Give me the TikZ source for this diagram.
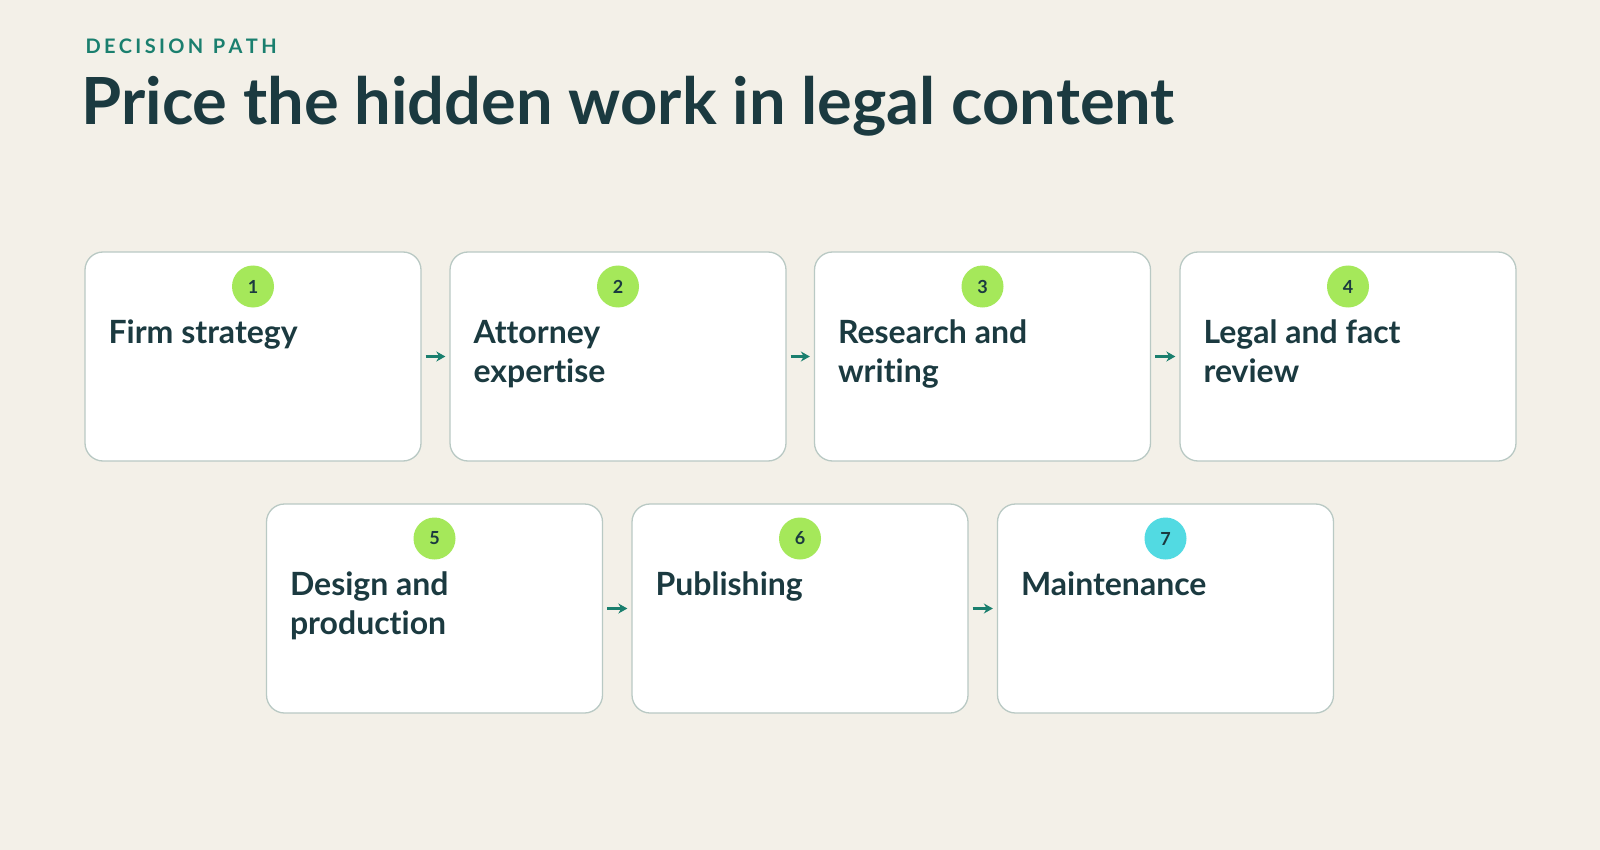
\documentclass[tikz,border=0pt]{standalone}
\usepackage{fontspec}
\setmainfont{Lato}[Ligatures=NoCommon]
\usetikzlibrary{arrows.meta}
\definecolor{bg}{HTML}{F3F0E8}
\definecolor{ink}{HTML}{1B3A40}
\definecolor{teal}{HTML}{1A7F6E}
\definecolor{bgreen}{HTML}{A5E85A}
\definecolor{bcyan}{HTML}{52DAE2}
\definecolor{edge}{HTML}{B9C9C4}
\begin{document}
\begin{tikzpicture}[x=1pt,y=-1pt,
 card/.style={draw=edge,line width=1.3pt,fill=white,rounded corners=18pt,minimum width=336pt,minimum height=209pt,inner sep=0pt},
 badge/.style={circle,fill=#1,minimum size=42pt,inner sep=0pt,font=\fontsize{18}{18}\selectfont\bfseries,text=ink},
 lbl/.style={anchor=north west,align=left,text=ink,font=\fontsize{32}{39}\selectfont\bfseries},
 arr/.style={draw=teal,line width=3pt,shorten <=4pt,shorten >=4pt,-{Stealth[length=9pt,width=10pt]}}]
\fill[bg] (0,0) rectangle (1600,850);
\node[anchor=west,text=teal,font=\fontsize{20}{20}\selectfont\bfseries] (kick) at (82,46) {D\,E\,C\,I\,S\,I\,O\,N\ \ P\,A\,T\,H};
\node[anchor=west,text=ink,font=\fontsize{65}{65}\selectfont\bfseries] (title) at (78,106) {Price the hidden work in legal content};
\foreach \n/\x/\y/\c/\t in {1/253/356.5/bgreen/Firm strategy,2/618/356.5/bgreen/Attorney\\expertise,3/982.5/356.5/bgreen/Research and\\writing,4/1348/356.5/bgreen/Legal and fact\\review,5/434.5/608.5/bgreen/Design and\\production,6/800/608.5/bgreen/Publishing,7/1165.5/608.5/bcyan/Maintenance}{
 \node[card] (c\n) at (\x,\y) {};
 \node[badge=\c] (b\n) at (\x,\y-70) {\n};
 \node[lbl] (t\n) at (\x-148,\y-40) {\t};
}
\foreach \a/\b in {1/2,2/3,3/4,5/6,6/7}{\draw[arr] (c\a.east) -- (c\b.west);}
\end{tikzpicture}
\end{document}
